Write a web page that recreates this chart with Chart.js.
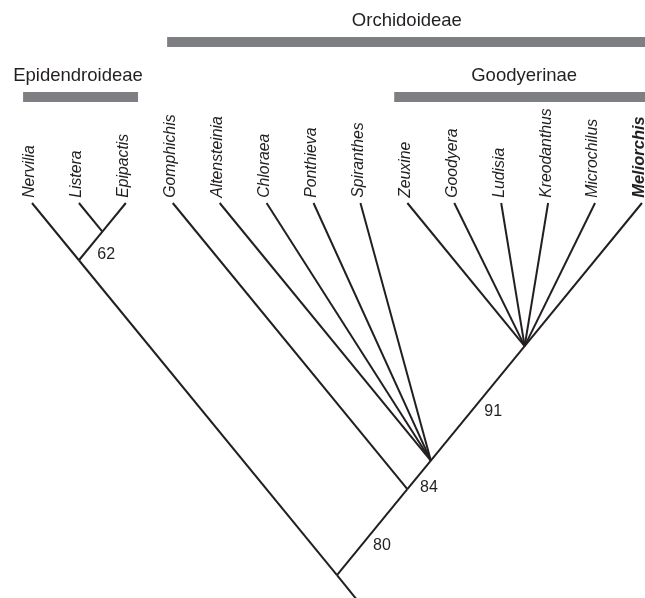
<!DOCTYPE html>
<html>
<head>
<meta charset="utf-8">
<script src="https://cdn.jsdelivr.net/npm/chart.js@4"></script>
<style>
  body { margin: 0; background: #fff; }
  #wrap { width: 645px; height: 598px; }
</style>
</head>
<body>
<div id="wrap"><canvas id="tree"></canvas></div>
<script>
// tips, left to right
const taxa = ['Nervilia', 'Listera', 'Epipactis', 'Gomphichis', 'Altensteinia', 'Chloraea', 'Ponthieva',
  'Spiranthes', 'Zeuxine', 'Goodyera', 'Ludisia', 'Kreodanthus', 'Microchilus', 'Meliorchis']
const tipParent = ['E', 'LE', 'LE', 'N84', 'P', 'P', 'P', 'P', 'G', 'G', 'G', 'G', 'G', 'G']
const boldTaxon = 'Meliorchis'

// internal nodes: x in tip units, depth below the tips in tip units
const nodeIds = ['LE', 'E', 'G', 'P', 'N84', 'R80', 'ROOT']
const nodeX = [1.5, 1.0, 10.5, 8.5, 8.0, 6.5, 7.0]
const nodeDepth = [0.61, 1.22, 3.05, 5.49, 6.1, 7.93, 8.55]
const nodeParent = ['E', 'R80', 'P', 'N84', 'R80', 'ROOT', null]

// support values
const supportText = ['62', '91', '84', '80']
const supportX = [1.58, 9.83, 8.46, 7.46]
const supportDepth = [1.09, 4.45, 6.07, 7.31]

// clade bars
const cladeNames = ['Orchidoideae', 'Epidendroideae', 'Goodyerinae']
const cladeFrom = [2.88, -0.19, 7.72]
const cladeTo = [13.4, 2.26, 13.4]
const cladeDepth = [-3.43, -2.26, -2.26]
const cladeLabelX = [7.99, 0.98, 10.49]

const lineColor = '#231f20'
const barColor = '#7e7f83'
const fontFamily = '"Liberation Sans", Arial, Helvetica, sans-serif'

function nodePoint(id){
  let k = nodeIds.indexOf(id)
  return {x: nodeX[k], y: nodeDepth[k]}
}

let datasets = []
taxa.forEach((name, i) => {
  datasets.push({
    data: [{x: i, y: 0}, nodePoint(tipParent[i])],
    showLine: true, borderColor: lineColor, borderWidth: 2, pointRadius: 0
  })
})
nodeIds.forEach((id, k) => {
  if(nodeParent[k] === null) return
  datasets.push({
    data: [nodePoint(id), nodePoint(nodeParent[k])],
    showLine: true, borderColor: lineColor, borderWidth: 2, pointRadius: 0
  })
})
cladeNames.forEach((name, k) => {
  datasets.push({
    data: [{x: cladeFrom[k], y: cladeDepth[k]}, {x: cladeTo[k], y: cladeDepth[k]}],
    showLine: true, borderColor: barColor, borderWidth: 10, borderCapStyle: 'butt', pointRadius: 0
  })
})

const treeLabels = {
  id: 'treeLabels',
  afterDatasetsDraw(chart){
    const {ctx, scales: {x, y}} = chart
    ctx.save()
    ctx.fillStyle = lineColor

    taxa.forEach((name, i) => {
      let px = x.getPixelForValue(i) - 2
      let py = y.getPixelForValue(-0.11)
      ctx.save()
      ctx.translate(px, py)
      ctx.rotate(-Math.PI / 2)
      ctx.font = name === boldTaxon ? 'italic bold 16.5px ' + fontFamily : 'italic 15.8px ' + fontFamily
      ctx.textAlign = 'left'
      ctx.textBaseline = 'middle'
      ctx.fillText(name, 0, 0)
      ctx.restore()
    })

    ctx.font = '16px ' + fontFamily
    ctx.textAlign = 'center'
    ctx.textBaseline = 'middle'
    supportText.forEach((t, k) => {
      ctx.fillText(t, x.getPixelForValue(supportX[k]), y.getPixelForValue(supportDepth[k]))
    })

    ctx.font = '18.5px ' + fontFamily
    cladeNames.forEach((name, k) => {
      let labelDepth = cladeDepth[k] - 0.45
      ctx.fillText(name, x.getPixelForValue(cladeLabelX[k]), y.getPixelForValue(labelDepth))
    })
    ctx.restore()
  }
}

new Chart(document.getElementById('tree'), {
  type: 'scatter',
  data: {datasets: datasets},
  options: {
    responsive: true,
    maintainAspectRatio: false,
    animation: false,
    layout: {padding: 0},
    plugins: {legend: {display: false}, tooltip: {enabled: false}},
    scales: {
      x: {type: 'linear', display: false, min: -0.682, max: 13.065},
      y: {type: 'linear', display: false, reverse: true, min: -4.327, max: 8.419}
    }
  },
  plugins: [treeLabels]
})
</script>
</body>
</html>
